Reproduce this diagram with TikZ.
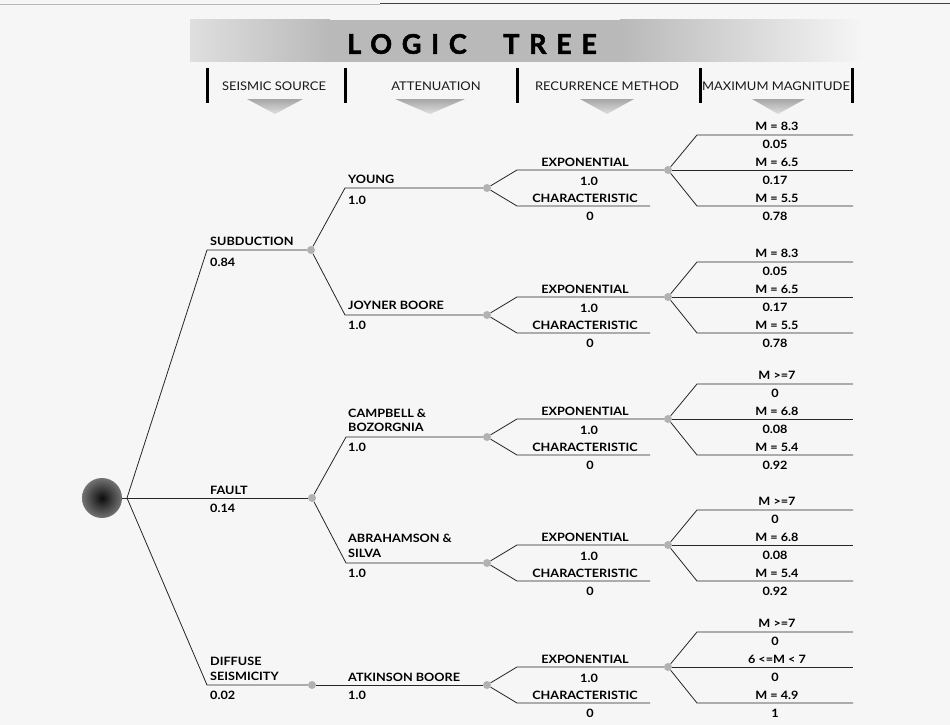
\documentclass[tikz,border=0pt]{standalone}
\usepackage{fontspec}
\newfontfamily\lato[FakeStretch=1.1]{Lato}
\newfontfamily\hdrfont[FakeStretch=1.08]{Lato}
\newfontfamily\titlefont[LetterSpace=36,FakeBold=2]{Lato}
\newcommand\RecGroup[8]{%
  \coordinate (#1eb) at (517,{#2-18});
  \coordinate (#1cb) at (517,{#2+18});
  \coordinate (#1ce) at (650,{#2+18});
  \node[jn] (#1m) at (668,{#2-18}) {};
  \coordinate (#1ub) at (697,{#2-53});
  \coordinate (#1ue) at (853,{#2-53});
  \coordinate (#1me) at (853,{#2-18});
  \coordinate (#1db) at (697,{#2+18});
  \coordinate (#1de) at (853,{#2+18});
  \draw[br] (#1) -- (#1eb) -- (#1m);
  \draw[br] (#1) -- (#1cb) -- (#1ce);
  \draw[br] (#1m) -- (#1ub) -- (#1ue);
  \draw[br] (#1m) -- (#1me);
  \draw[br] (#1m) -- (#1db) -- (#1de);
  \node[lab] (#1r1) at (585,{#2-26}) {EXPONENTIAL};
  \node[lab] (#1r2) at (589,{#2-7}) {1.0};
  \node[lab] (#1r3) at (585,{#2+10}) {CHARACTERISTIC};
  \node[lab] (#1r4) at (590,{#2+28}) {0};
  \node[lab] (#1k1) at (777,{#2-62}) {#3};
  \node[lab] (#1k2) at (775,{#2-44}) {#4};
  \node[lab] (#1k3) at (777,{#2-26}) {#5};
  \node[lab] (#1k4) at (775,{#2-8}) {#6};
  \node[lab] (#1k5) at (777,{#2+10}) {#7};
  \node[lab] (#1k6) at (775,{#2+28}) {#8};
}
\begin{document}
\begin{tikzpicture}[x=1pt,y=-1pt,
  br/.style={draw=black!85, line width=0.8pt},
  jn/.style={circle, fill=gray!60, inner sep=0pt, minimum size=8pt},
  lab/.style={font=\lato\bfseries\fontsize{11.5}{14.5}\selectfont, inner sep=0pt, text=black},
  labl/.style={lab, anchor=west, align=left},
  hdr/.style={font=\hdrfont\fontsize{12}{14}\selectfont, inner sep=0pt, text=black!90},
  ttl/.style={font=\titlefont\bfseries\fontsize{27}{27}\selectfont, inner sep=0pt},
  hbar/.style={line width=3pt, black},
  htri/.style={top color=gray!70, bottom color=gray!25, draw=none}
]
\useasboundingbox (0,0) rectangle (950,725);
\fill[gray!7] (0,0) rectangle (950,725);
% top rule
\draw[gray!55, line width=0.6pt] (0,4) -- (380,4);
\draw[black!75, line width=1pt] (380,4) -- (950,4);
% title band
\shade[left color=gray!25, right color=gray!55] (190,20) rectangle (330,62);
\fill[gray!55] (330,20) rectangle (620,62);
\shade[left color=gray!55, right color=gray!8] (620,20) rectangle (860,62);
\node[ttl, anchor=west] (title1) at (347,44) {LOGIC};
\node[ttl, anchor=west] (title2) at (503,44) {TREE};
% headers
\foreach \bx in {207,345,517,700,852} \draw[hbar] (\bx,68) -- (\bx,103);
\node[hdr] (h1) at (274,86) {SEISMIC SOURCE};
\node[hdr] (h2) at (436,86) {ATTENUATION};
\node[hdr] (h3) at (607,86) {RECURRENCE METHOD};
\node[hdr] (h4) at (776,86) {MAXIMUM MAGNITUDE};
\shade[htri] (247,99) -- (303,99) -- (275,114) -- cycle;
\shade[htri] (395,99) -- (465,99) -- (430,114) -- cycle;
\shade[htri] (580,99) -- (634,99) -- (607,114) -- cycle;
\shade[htri] (752,99) -- (805,99) -- (778,114) -- cycle;
% root and sources
\node[circle, minimum size=40pt, inner sep=0pt, inner color=black!95, outer color=black!55] (root) at (102,498) {};
\coordinate (j0) at (127,498);
\coordinate (s1b) at (207,250);
\coordinate (s3b) at (207,685);
\node[jn] (S1) at (311,250) {};
\node[jn] (S2) at (312,498) {};
\node[jn] (S3) at (312,685) {};
\draw[br] (root) -- (j0);
\draw[br] (j0) -- (s1b) -- (S1);
\draw[br] (j0) -- (S2);
\draw[br] (j0) -- (s3b) -- (S3);
% attenuation
\coordinate (a1b) at (345,188);
\coordinate (a2b) at (345,315);
\coordinate (a3b) at (346,437);
\coordinate (a4b) at (346,563);
\node[jn] (A1) at (487,188) {};
\node[jn] (A2) at (487,315) {};
\node[jn] (A3) at (487,437) {};
\node[jn] (A4) at (487,563) {};
\node[jn] (A5) at (487,685) {};
\draw[br] (S1) -- (a1b) -- (A1);
\draw[br] (S1) -- (a2b) -- (A2);
\draw[br] (S2) -- (a3b) -- (A3);
\draw[br] (S2) -- (a4b) -- (A4);
\draw[br] (S3) -- (A5);
% source labels
\node[labl] (lsub) at (210,241) {SUBDUCTION};
\node[labl] (psub) at (210,262) {0.84};
\node[labl] (lfault) at (210,490) {FAULT};
\node[labl] (pfault) at (210,508) {0.14};
\node[labl] (ldiff) at (210,669) {DIFFUSE\\SEISMICITY};
\node[labl] (pdiff) at (210,695) {0.02};
% attenuation labels
\node[labl] (lyoung) at (348,179) {YOUNG};
\node[labl] (pyoung) at (348,200) {1.0};
\node[labl] (ljb) at (348,305) {JOYNER BOORE};
\node[labl] (pjb) at (348,325) {1.0};
\node[labl] (lcb) at (348,420.5) {CAMPBELL \&\\BOZORGNIA};
\node[labl] (pcb) at (348,447) {1.0};
\node[labl] (las) at (348,546) {ABRAHAMSON \&\\SILVA};
\node[labl] (pas) at (348,573) {1.0};
\node[labl] (lab5) at (348,677) {ATKINSON BOORE};
\node[labl] (pab) at (348,695) {1.0};
% recurrence and magnitude groups
\RecGroup{A1}{188}{M = 8.3}{0.05}{M = 6.5}{0.17}{M = 5.5}{0.78}
\RecGroup{A2}{315}{M = 8.3}{0.05}{M = 6.5}{0.17}{M = 5.5}{0.78}
\RecGroup{A3}{437}{M >=7}{0}{M = 6.8}{0.08}{M = 5.4}{0.92}
\RecGroup{A4}{563}{M >=7}{0}{M = 6.8}{0.08}{M = 5.4}{0.92}
\RecGroup{A5}{685}{M >=7}{0}{6 <=M < 7}{0}{M = 4.9}{1}
\end{tikzpicture}
\end{document}
